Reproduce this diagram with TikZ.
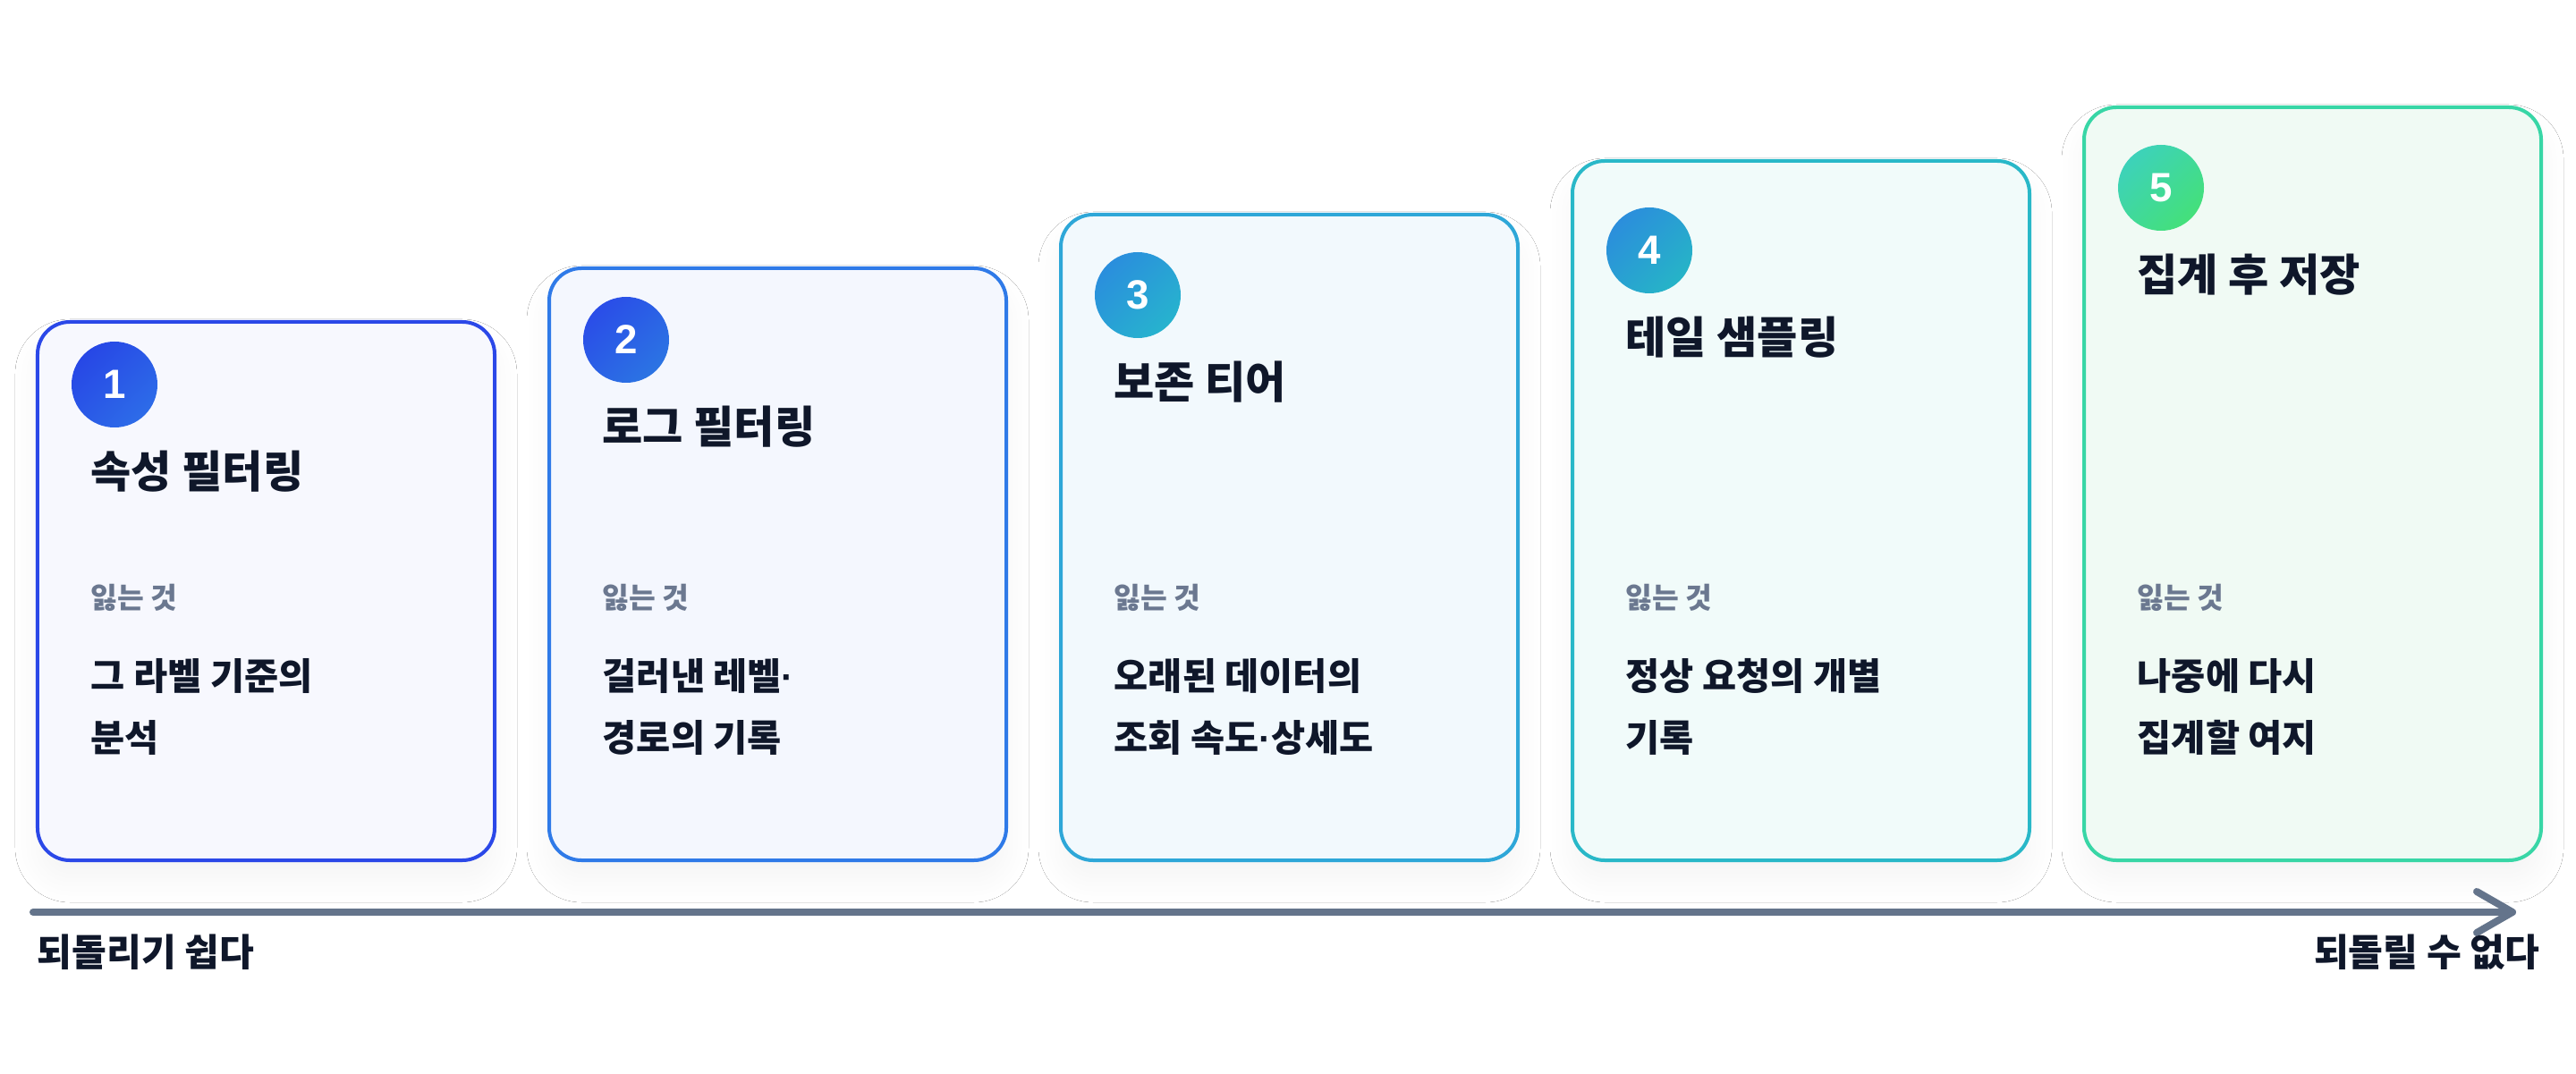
\documentclass[tikz,border=0pt]{standalone}
\usepackage{fontspec}
\usepackage{xcolor}
\usepackage{tikz}
\usetikzlibrary{positioning,arrows.meta,shadows.blur}
\setmainfont{Noto Sans CJK KR}
\newfontfamily\numfont{Liberation Sans}
\newcommand{\middot}{{\numfont\bfseries ·}}

\definecolor{ink}{HTML}{0F172A}
\definecolor{slate}{HTML}{64748B}
\definecolor{lostgray}{HTML}{6B7890}
\definecolor{edgeA}{HTML}{2B48E8}
\definecolor{edgeB}{HTML}{2F7AE8}
\definecolor{edgeC}{HTML}{2EA7D8}
\definecolor{edgeD}{HTML}{29B8C8}
\definecolor{edgeE}{HTML}{38D6A6}
\definecolor{fillA}{HTML}{F7F8FE}
\definecolor{fillB}{HTML}{F4F7FE}
\definecolor{fillC}{HTML}{F2F9FD}
\definecolor{fillD}{HTML}{F1FBFA}
\definecolor{fillE}{HTML}{F0FAF4}
\definecolor{topA}{HTML}{2747E6}
\definecolor{botA}{HTML}{2D6CE8}
\definecolor{topB}{HTML}{2A4DE8}
\definecolor{botB}{HTML}{2B74E3}
\definecolor{topC}{HTML}{2A8EDD}
\definecolor{botC}{HTML}{27B3CE}
\definecolor{topD}{HTML}{2B8EDC}
\definecolor{botD}{HTML}{26B4C7}
\definecolor{topE}{HTML}{3DD2BA}
\definecolor{botE}{HTML}{44E07A}

\begin{document}
\begin{tikzpicture}[Card/.style = {rectangle, rounded corners = 0.36cm, line width = 0.04cm, minimum width = 5.11cm, anchor = north west, blur shadow = {shadow xshift = 0cm, shadow yshift = -0.22cm, shadow blur radius = 0.25cm, shadow opacity = 4, shadow blur steps = 25}},
        Badge/.style = {circle, minimum size = 0.96cm, inner sep = 0pt, text = white, font = \numfont\bfseries\fontsize{13}{15}\selectfont},
        Title/.style = {anchor = west, inner sep = 0pt, text = ink, font = \bfseries\fontsize{14}{16}\selectfont},
        Lost/.style = {anchor = west, inner sep = 0pt, text = lostgray, font = \bfseries\fontsize{9.2}{10}\selectfont},
        Body/.style = {inner sep = 0pt, align = left, text = ink, font = \bfseries\fontsize{11.8}{19.6}\selectfont},
        Ends/.style = {inner sep = 0pt, text = ink, font = \bfseries\fontsize{12}{14}\selectfont}]
        \useasboundingbox [fill = white] (0,0) rectangle (28.8,12);
        % cards, bottoms aligned
        \node [Card, draw = edgeA, fill = fillA, minimum height = 6.02cm] (card1) at (0.40,8.42) {};
        \node [Card, draw = edgeB, fill = fillB, minimum height = 6.62cm] (card2) at (6.12,9.02) {};
        \node [Card, draw = edgeC, fill = fillC, minimum height = 7.22cm] (card3) at (11.84,9.62) {};
        \node [Card, draw = edgeD, fill = fillD, minimum height = 7.82cm] (card4) at (17.56,10.22) {};
        \node [Card, draw = edgeE, fill = fillE, minimum height = 8.42cm] (card5) at (23.28,10.82) {};
        % badges
        \node [Badge, top color = topA, bottom color = botA, shading angle = 45] (badge1) at (1.28,7.70) {1};
        \node [Badge, top color = topB, bottom color = botB, shading angle = 45] (badge2) at (7.00,8.20) {2};
        \node [Badge, top color = topC, bottom color = botC, shading angle = 45] (badge3) at (12.72,8.70) {3};
        \node [Badge, top color = topD, bottom color = botD, shading angle = 45] (badge4) at (18.44,9.20) {4};
        \node [Badge, top color = topE, bottom color = botE, shading angle = 45] (badge5) at (24.16,9.90) {5};
        % titles
        \node [Title] (title1) at (1.01,6.73) {속성 필터링};
        \node [Title] (title2) at (6.73,7.23) {로그 필터링};
        \node [Title] (title3) at (12.45,7.73) {보존 티어};
        \node [Title] (title4) at (18.17,8.23) {테일 샘플링};
        \node [Title] (title5) at (23.89,8.93) {집계 후 저장};
        % what is lost
        \node [Lost] (lost1) at (1.01,5.32) {잃는 것};
        \node [Lost] (lost2) at (6.73,5.32) {잃는 것};
        \node [Lost] (lost3) at (12.45,5.32) {잃는 것};
        \node [Lost] (lost4) at (18.17,5.32) {잃는 것};
        \node [Lost] (lost5) at (23.89,5.32) {잃는 것};
        \node [Body, below = 0.52cm of lost1.south west, anchor = north west] (body1) {그 라벨 기준의\\분석};
        \node [Body, below = 0.52cm of lost2.south west, anchor = north west] (body2) {걸러낸 레벨\middot\\경로의 기록};
        \node [Body, below = 0.52cm of lost3.south west, anchor = north west] (body3) {오래된 데이터의\\조회 속도\middot 상세도};
        \node [Body, below = 0.52cm of lost4.south west, anchor = north west] (body4) {정상 요청의 개별\\기록};
        \node [Body, below = 0.52cm of lost5.south west, anchor = north west] (body5) {나중에 다시\\집계할 여지};
        % axis
        \coordinate (start) at (0.37,1.80);
        \coordinate (stop) at (28.13,1.80);
        \draw [slate, line width = 0.08cm, line cap = round, -{Straight Barb[length = 0.4cm, width = 0.46cm, round]}] (start) -- (stop);
        \node [Ends, anchor = west] (easy) at (0.41,1.35) {되돌리기 쉽다};
        \node [Ends, anchor = east] (hard) at (28.40,1.35) {되돌릴 수 없다};
    \end{tikzpicture}
\end{document}
